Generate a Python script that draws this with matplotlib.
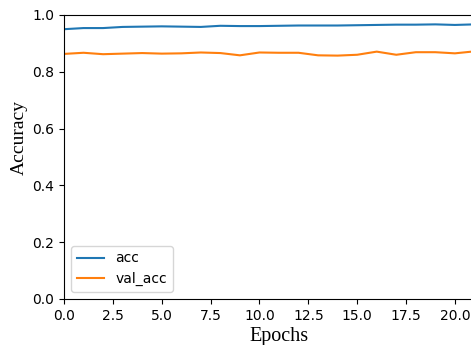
import matplotlib
matplotlib.use("Agg")
import matplotlib.pyplot as plt

epochs = list(range(22))
acc = [0.950, 0.954, 0.954, 0.958, 0.959, 0.960, 0.959, 0.958, 0.962, 0.961, 0.961,
       0.962, 0.963, 0.963, 0.963, 0.964, 0.965, 0.966, 0.966, 0.967, 0.965, 0.967]
val_acc = [0.863, 0.867, 0.862, 0.864, 0.866, 0.864, 0.865, 0.868, 0.866, 0.858, 0.868,
           0.867, 0.867, 0.858, 0.857, 0.860, 0.871, 0.860, 0.869, 0.869, 0.865, 0.872]

fig = plt.figure(figsize=(4.71, 3.45), dpi=100)
# axes run past the right edge, as in the cropped original
ax = fig.add_axes([64 / 471, 46 / 345, 430 / 471, 284 / 345])

ax.plot(epochs, acc, label="acc")
ax.plot(epochs, val_acc, label="val_acc")

ax.set_xlim(0, 22)
ax.set_ylim(0, 1.0)
ax.set_xticks([0, 2.5, 5, 7.5, 10, 12.5, 15, 17.5, 20])

ax.set_xlabel("Epochs", family="Liberation Serif", fontsize=14.5)
ax.set_ylabel("Accuracy", family="Liberation Serif", fontsize=14)
ax.xaxis.set_label_coords(0.5, -0.1)
ax.yaxis.set_label_coords(-0.084, 0.57)

ax.legend(loc="lower left")

fig.savefig("out.png", dpi=100)
